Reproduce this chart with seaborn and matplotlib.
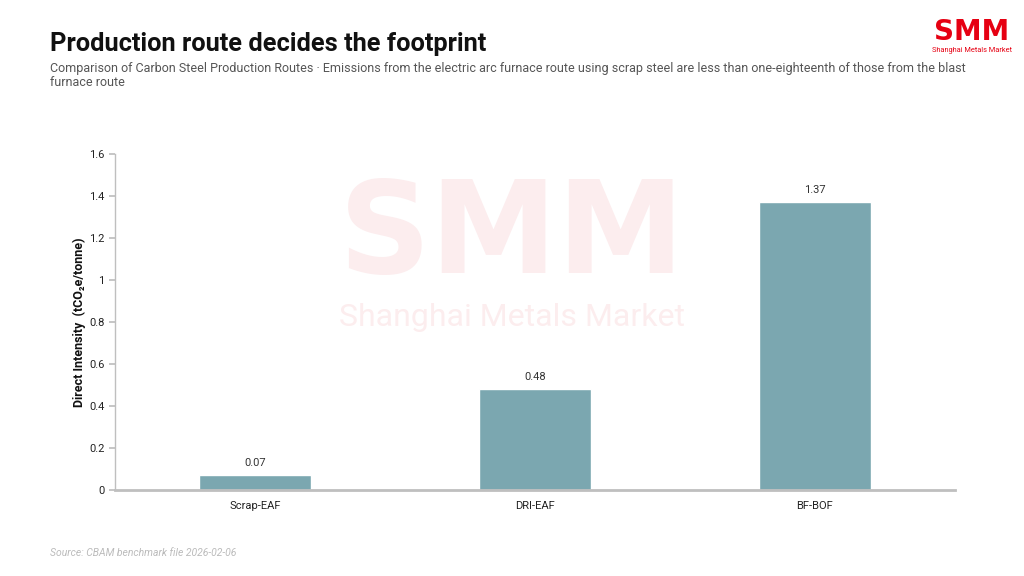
import matplotlib
matplotlib.use("Agg")
import matplotlib.pyplot as plt
import seaborn as sns
import pandas as pd
from matplotlib.ticker import FuncFormatter, FixedLocator

routes = ["Scrap-EAF", "DRI-EAF", "BF-BOF"]
intensity = [0.07, 0.48, 1.37]
y_ticks = [0, 0.2, 0.4, 0.6, 0.8, 1, 1.2, 1.4, 1.6]

title = "Production route decides the footprint"
subtitle = ("Comparison of Carbon Steel Production Routes \u00b7 Emissions from the electric arc furnace route using scrap steel are less than one-eighteenth of those from the blast\n"
            "furnace route")
ylabel = "Direct Intensity  (tCO\u2082e/tonne)"
source = "Source: CBAM benchmark file 2026-02-06"

sns.set_theme(style="white")
plt.rcParams['font.family'] = ['Roboto', 'DejaVu Sans']

df = pd.DataFrame({"route": routes, "value": intensity})

fig = plt.figure(figsize=(10.24, 5.76), dpi=100)
ax = fig.add_axes([0.1123, 0.1493, 0.8203, 0.5833])

# watermark
fig.text(0.5, 0.588, "SMM", ha="center", va="center", fontsize=92, fontweight="black",
         color="#FCEDEE", zorder=0, family=["DejaVu Sans"])
fig.text(0.5, 0.448, "Shanghai Metals Market", ha="center", va="center", fontsize=23,
         color="#FCEDEE", zorder=0)

sns.barplot(data=df, x="route", y="value", color="#7BA7B0", width=0.4, ax=ax,
            saturation=1, zorder=2)
ax.patch.set_alpha(0)

ax.set_xlim(-0.5, 2.5)
ax.set_ylim(0, 1.6)
ax.yaxis.set_major_locator(FixedLocator(y_ticks))
ax.yaxis.set_major_formatter(FuncFormatter(lambda v, p: "%g" % v))
ax.xaxis.set_major_locator(FixedLocator([0, 1, 2]))
ax.xaxis.set_minor_locator(FixedLocator([-0.5, 0.5, 1.5, 2.5]))
ax.tick_params(axis="x", which="major", length=0, labelsize=8, colors="#222222", pad=8)
ax.tick_params(axis="x", which="minor", length=5, color="#BFBFBF", direction="out")
ax.tick_params(axis="y", length=4, color="#BFBFBF", labelsize=8, labelcolor="#222222", left=True)

for s in ["top", "right"]:
    ax.spines[s].set_visible(False)
ax.spines["left"].set_color("#BFBFBF")
ax.spines["left"].set_linewidth(1)
ax.spines["bottom"].set_color("#BFBFBF")
ax.spines["bottom"].set_linewidth(2)

ax.set_xlabel("")
ax.set_ylabel(ylabel, fontsize=9, fontweight="bold", color="#111111", labelpad=2)

for i, v in enumerate(intensity):
    ax.text(i, v + 0.035, f"{v:.2f}", ha="center", va="bottom", fontsize=8, color="#333333")

fig.text(0.049, 0.923, title, fontsize=18.3, fontweight="bold", color="#111111", va="center", ha="left")
fig.text(0.049, 0.892, subtitle, fontsize=9.0, color="#555555", va="top", ha="left", linespacing=1.05)
fig.text(0.049, 0.04, source, fontsize=7.5, color="#BBBBBB", fontstyle="italic", va="center", ha="left")

# logo
fig.text(0.949, 0.944, "SMM", fontsize=20, fontweight="black", color="#E60012",
         ha="center", va="center", family=["DejaVu Sans"])
fig.text(0.949, 0.912, "Shanghai Metals Market", fontsize=5.3, color="#E60012", ha="center", va="center")

fig.savefig("out.png", dpi=100)
